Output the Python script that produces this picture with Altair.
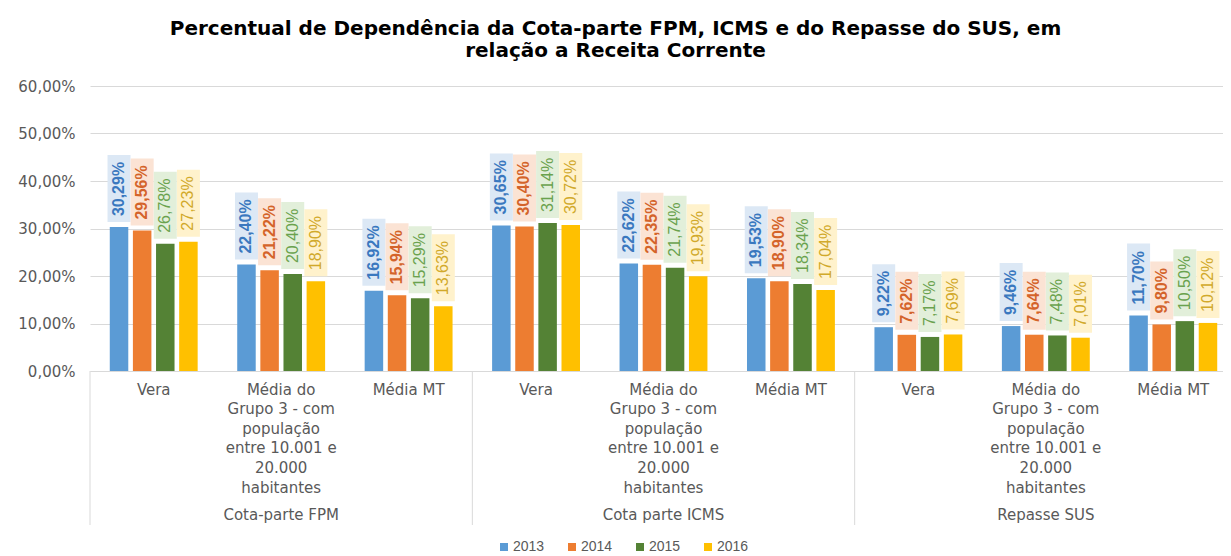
import altair as alt
import pandas as pd

groups = ["Cota-parte FPM", "Cota parte ICMS", "Repasse SUS"]
entity_lines = [
    ["Vera"],
    ["Média do", "Grupo 3 - com", "população", "entre 10.001 e", "20.000", "habitantes"],
    ["Média MT"],
]
years = ["2013", "2014", "2015", "2016"]
v2013 = [30.29, 22.40, 16.92, 30.65, 22.62, 19.53, 9.22, 9.46, 11.70]
v2014 = [29.56, 21.22, 15.94, 30.40, 22.35, 18.90, 7.62, 7.64, 9.80]
v2015 = [26.78, 20.40, 15.29, 31.14, 21.74, 18.34, 7.17, 7.48, 10.50]
v2016 = [27.23, 18.90, 13.63, 30.72, 19.93, 17.04, 7.69, 7.01, 10.12]
y_ticks = [0, 10, 20, 30, 40, 50, 60]

bar_colors = ["#5b9bd5", "#ed7d31", "#548235", "#ffc000"]
box_colors = ["#dce8f5", "#fbe3d4", "#e2efda", "#fff2cc"]
text_colors = ["#3a78bf", "#d4632a", "#6aa24e", "#d1a92a"]
bold_years = ["2013", "2014"]

series = [v2013, v2014, v2015, v2016]
rows = []
keys = []
for gi, g in enumerate(groups):
    for ei, lines in enumerate(entity_lines):
        key = f"{gi}|" + "~".join(lines)
        keys.append(key)
        for yi, yr in enumerate(years):
            val = series[yi][gi * 3 + ei]
            rows.append(dict(
                key=key, group=g, year=yr, value=val,
                label=f"{val:.2f}".replace(".", ",") + "%",
                box=box_colors[yi], tcolor=text_colors[yi],
                bold=yr in bold_years, long=val >= 10,
            ))
df = pd.DataFrame(rows)

sep_df = pd.DataFrame({"key": [keys[gi * 3] for gi in range(len(groups))]})
grp_df = pd.DataFrame({"key": [keys[gi * 3 + 1] for gi in range(len(groups))], "group": groups})

AX = "DejaVu Sans"
GRAY = "#595959"
GRID = "#d9d9d9"

x_axis = alt.Axis(
    title=None, labelAngle=0, ticks=False, grid=False, domainColor=GRID,
    labelExpr="split(split(datum.label, '|')[1], '~')",
    labelFont=AX, labelFontSize=15, labelColor=GRAY, labelPadding=11,
    labelLineHeight=19.6, labelBaseline="top", labelLimit=300, labelOverlap=False,
)
# the original chart is cropped at its right edge: the category band runs past the frame
x_scale = alt.Scale(domain=keys, paddingInner=0, paddingOuter=0, range=[0, 1147])


def X(**kw):
    return alt.X("key:N", sort=keys, scale=x_scale, axis=x_axis, **kw)


xo = alt.XOffset("year:N", sort=years,
                 scale=alt.Scale(domain=years, paddingInner=0.2, paddingOuter=0.855))
y_enc = alt.Y(
    "value:Q", scale=alt.Scale(domain=[0, 60], nice=False),
    axis=alt.Axis(
        title=None, values=y_ticks, ticks=False, domain=False, gridColor=GRID,
        labelExpr="replace(format(datum.value / 100, '.2%'), '.', ',')",
        labelFont=AX, labelFontSize=15, labelColor=GRAY, labelPadding=15,
    ),
)

base = alt.Chart(df)

bars = base.mark_bar().encode(
    x=X(), xOffset=xo, y=y_enc,
    color=alt.Color(
        "year:N", sort=years, scale=alt.Scale(domain=years, range=bar_colors),
        legend=alt.Legend(
            title=None, orient="none", direction="horizontal", legendX=407, legendY=454,
            symbolType="square", symbolSize=64, symbolStrokeWidth=0, labelOffset=2,
            columnPadding=20, labelFont="Liberation Sans", labelFontSize=14, labelColor=GRAY,
        ),
    ),
)

boxes_long = base.transform_filter("datum.long").mark_bar(
    width=23, yOffset=-72, y2Offset=-5
).encode(x=X(), xOffset=xo, y=y_enc, y2="value:Q", fill=alt.Fill("box:N", scale=None))

boxes_short = base.transform_filter("!datum.long").mark_bar(
    width=23, yOffset=-63, y2Offset=-5
).encode(x=X(), xOffset=xo, y=y_enc, y2="value:Q", fill=alt.Fill("box:N", scale=None))

text_bold = base.transform_filter("datum.bold").mark_text(
    angle=270, align="left", baseline="middle", yOffset=-11,
    font="Liberation Sans", fontSize=16, fontWeight="bold",
).encode(x=X(), xOffset=xo, y=y_enc, text="label:N", fill=alt.Fill("tcolor:N", scale=None))

text_norm = base.transform_filter("!datum.bold").mark_text(
    angle=270, align="left", baseline="middle", yOffset=-11,
    font="Liberation Sans", fontSize=16,
).encode(x=X(), xOffset=xo, y=y_enc, text="label:N", fill=alt.Fill("tcolor:N", scale=None))

seps = alt.Chart(sep_df).mark_rule(color=GRID, strokeWidth=1).encode(
    x=X(bandPosition=0), y=alt.value(285), y2=alt.value(439)
)

grp_text = alt.Chart(grp_df).mark_text(
    font=AX, fontSize=15, color=GRAY, baseline="middle"
).encode(x=X(), y=alt.value(429), text="group:N")

chart = alt.layer(bars, boxes_long, boxes_short, text_bold, text_norm, seps, grp_text).properties(
    width=1133, height=285,
    title=alt.TitleParams(
        text=["Percentual de Dependência da Cota-parte FPM, ICMS e do Repasse do SUS, em",
              "relação a Receita Corrente"],
        font="DejaVu Sans", fontSize=20, fontWeight="bold", color="#000000",
        anchor="middle", dx=-41, offset=18, lineHeight=22,
    ),
    autosize=alt.AutoSizeParams(type="none"),
    padding={"left": 82, "top": 78, "right": 0, "bottom": 185},
).configure_view(stroke=None)

chart.save("out.html", embed_options={"renderer": "svg", "actions": False})
